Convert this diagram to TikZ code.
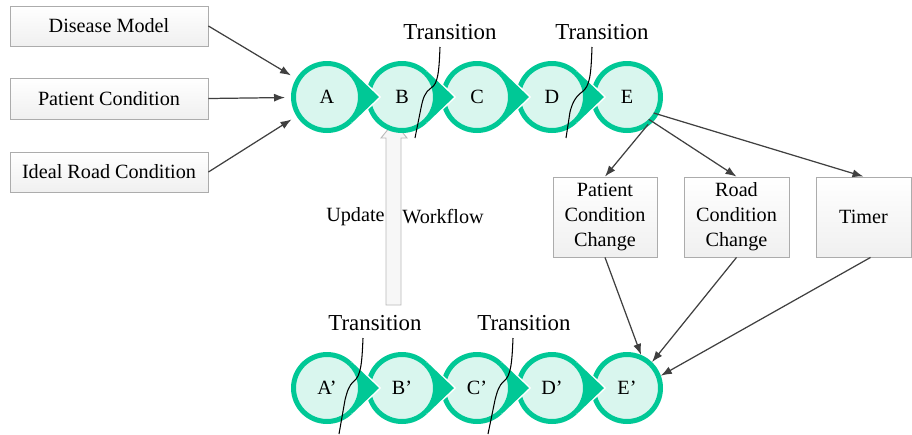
\documentclass[tikz,border=0pt]{standalone}
\usepackage{fontspec}
\setmainfont{Liberation Serif}
\usepackage{xcolor}
\usetikzlibrary{arrows.meta,calc}

\definecolor{stagegreen}{HTML}{00C896}
\definecolor{stagefill}{HTML}{D9F6EE}
\definecolor{linkgray}{HTML}{404040}

\tikzset{
	stage/.style={circle,draw=stagegreen,fill=stagefill,line width=0.1cm,minimum size=1.34cm,inner sep=0pt,font=\fontsize{11.5}{13}\selectfont},
	infobox/.style={draw=gray!65,top color=white,bottom color=gray!12,line width=0.5pt,font=\fontsize{11.5}{14.2}\selectfont,align=center,inner sep=2pt},
	link/.style={draw=linkgray,line width=0.7pt,-{Latex[length=0.22cm,width=0.16cm]}},
	translabel/.style={font=\fontsize{13}{15}\selectfont,inner sep=1pt},
	flowtext/.style={font=\fontsize{11.5}{14}\selectfont,inner sep=0pt}
}

\begin{document}
\begin{tikzpicture}[x=0.02cm,y=-0.02cm]
	\useasboundingbox[fill=white] (0,0) rectangle (912,434);
	
	% update arrow (behind the stages)
	\draw[fill=gray!6,draw=gray!55,line width=0.5pt] (386,305) -- (386,138) -- (381,138) -- (394,122) -- (407,138) -- (401,138) -- (401,305) -- cycle;
	\node[flowtext,anchor=east] (upd) at (385,217) {Update};
	\node[flowtext,anchor=west] (wf) at (402,217) {Workflow};
	
	% first workflow
	\node[stage] (A) at (327,97) {A};
	\node[stage] (B) at (402,97) {B};
	\node[stage] (C) at (477,97) {C};
	\node[stage] (D) at (552,97) {D};
	\node[stage] (E) at (627,97) {E};
	
	% updated workflow
	\node[stage] (Ap) at (327,388) {A'};
	\node[stage] (Bp) at (402,388) {B'};
	\node[stage] (Cp) at (477,388) {C'};
	\node[stage] (Dp) at (552,388) {D'};
	\node[stage] (Ep) at (627,388) {E'};
	
	% pointed ends
	\foreach \n in {A,B,C,D,Ap,Bp,Cp,Dp}{
		\draw[white,line width=0.06cm,line join=miter] (\n.46) -- ($(\n.center)+(52,0)$) -- (\n.-46);
		\fill[stagegreen] (\n.46) -- ($(\n.center)+(52,0)$) -- (\n.-46) -- ($(\n.center)+(46:33.5)$) arc[start angle=46,end angle=-46,radius=33.5] -- cycle;
	}
	
	% transitions
	\node[translabel] (tr1) at (450,32) {Transition};
	\node[translabel] (tr2) at (602,32) {Transition};
	\node[translabel] (tr3) at (375,323) {Transition};
	\node[translabel] (tr4) at (524,323) {Transition};
	\draw[line width=0.6pt] (440,47) .. controls (439,72) and (438,84) .. (431,88) .. controls (425,92) and (423,98) .. (421,108) -- (415,138);
	\draw[line width=0.6pt] (592,47) .. controls (591,75) and (590,86) .. (582,92) .. controls (575,97) and (572,104) .. (570,112) -- (566,138);
	\draw[line width=0.6pt] (363,338) .. controls (362,362) and (361,376) .. (354,381) .. controls (349,385) and (347,392) .. (345,400) -- (339,434);
	\draw[line width=0.6pt] (513,338) .. controls (512,362) and (511,376) .. (504,381) .. controls (499,385) and (497,392) .. (495,400) -- (488,434);
	
	% inputs
	\node[infobox,minimum width=3.96cm,minimum height=0.8cm] (dm) at (109,26) {Disease Model};
	\node[infobox,minimum width=3.96cm,minimum height=0.82cm] (pc) at (109,98.5) {Patient Condition};
	\node[infobox,minimum width=3.96cm,minimum height=0.8cm] (irc) at (109,172) {Ideal Road Condition};
	\draw[link,shorten >=0.12cm] (dm.east) -- (A);
	\draw[link,shorten >=0.12cm] (pc.east) -- (A);
	\draw[link,shorten >=0.12cm] (irc.east) -- (A);
	
	% changes
	\node[infobox,minimum width=2.08cm,minimum height=1.6cm] (pcc) at (605,217) {Patient\\Condition\\Change};
	\node[infobox,minimum width=2.1cm,minimum height=1.6cm] (rcc) at (736.5,217) {Road\\Condition\\Change};
	\node[infobox,minimum width=1.9cm,minimum height=1.6cm] (timer) at (863.5,217) {Timer};
	\draw[link,shorten <=-0.1cm] (E.-60) -- (pcc.north);
	\draw[link,shorten <=-0.1cm] (E.-44) -- (rcc.north);
	\draw[link,shorten <=-0.1cm] (E.-29) -- (timer.north);
	\draw[link] (pcc.south) -- (Ep.67);
	\draw[link] (rcc.south) -- (Ep.46);
	\draw[link] ([xshift=0.14cm]timer.south) -- (Ep.20);
\end{tikzpicture}
\end{document}
